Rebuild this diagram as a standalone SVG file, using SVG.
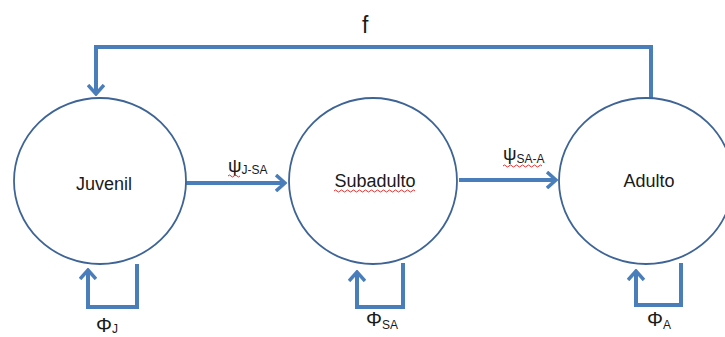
<svg xmlns="http://www.w3.org/2000/svg" width="725" height="337" viewBox="0 0 725 337">
  <style>
    .stage { fill: #ffffff; stroke: #3E6496; stroke-width: 1.8; }
    .link { fill: none; stroke: #4A7EBB; stroke-width: 4; stroke-linejoin: miter; }
    .name { font-family: "Liberation Sans", Arial, sans-serif; font-size: 18px; fill: #1a1a1a; text-anchor: middle; }
    .rate { font-family: "Liberation Sans", Arial, sans-serif; font-size: 19px; fill: #1a1a1a; }
    .sub { font-size: 12px; }
    .squiggle { fill: none; stroke: #E03030; stroke-width: 1; }
  </style>
  <defs>
    <marker id="head" markerUnits="userSpaceOnUse" viewBox="0 0 12 18" refX="10" refY="9" markerWidth="12" markerHeight="18" orient="auto">
      <path d="M1,1 L10,9 L1,17" fill="none" stroke="#4A7EBB" stroke-width="3.5"/>
    </marker>
  </defs>
  <rect width="725" height="337" fill="#ffffff"/>

  <!-- connectors -->
  <g id="connectors">
    <!-- fecundity: Adulto back to Juvenil -->
    <polyline class="link" points="651,98 651,47 96,47 96,94" marker-end="url(#head)"/>
    <!-- transitions -->
    <line class="link" x1="186" y1="183" x2="285" y2="183" marker-end="url(#head)"/>
    <line class="link" x1="459" y1="180" x2="556" y2="180" marker-end="url(#head)"/>
    <!-- survival loops -->
    <polyline class="link" points="137,264 137,307 88,307 88,270" marker-end="url(#head)"/>
    <polyline class="link" points="403,263 403,307 357,307 357,272" marker-end="url(#head)"/>
    <polyline class="link" points="681,263 681,305 636,305 636,271" marker-end="url(#head)"/>
  </g>

  <g id="juvenil">
    <ellipse class="stage" cx="100" cy="181" rx="86" ry="83"/>
    <text class="name" x="104" y="190">Juvenil</text>
  </g>
  <g id="subadulto">
    <ellipse class="stage" cx="373" cy="181" rx="84" ry="83"/>
    <text class="name" x="375" y="187">Subadulto</text>
    <path class="squiggle" d="M334,191 q1.5,-2 3,0 t3,0 t3,0 t3,0 t3,0 t3,0 t3,0 t3,0 t3,0 t3,0 t3,0 t3,0 t3,0 t3,0 t3,0 t3,0 t3,0 t3,0 t3,0 t3,0 t3,0 t3,0 t3,0 t3,0 t3,0 t3,0 t3,0"/>
  </g>
  <g id="adulto">
    <ellipse class="stage" cx="646" cy="181" rx="87" ry="83"/>
    <text class="name" x="649" y="187">Adulto</text>
  </g>

  <!-- rate labels -->
  <g id="labels">
    <text class="rate" x="362" y="33" style="font-size:23px">f</text>
    <text class="rate" x="228" y="172">ψ<tspan class="sub" dy="2">J-SA</tspan></text>
    <path class="squiggle" d="M228,176 q1.5,-2 3,0 t3,0 t3,0 t3,0"/>
    <text class="rate" x="503" y="160">ψ<tspan class="sub" dy="3">SA-A</tspan></text>
    <path class="squiggle" d="M503,166 q1.5,-2 3,0 t3,0 t3,0 t3,0 t3,0 t3,0 t3,0 t3,0 t3,0 t3,0 t3,0 t3,0 t3,0"/>
    <text class="rate" x="96" y="332" style="font-size:20px">Φ<tspan class="sub" dy="1">J</tspan></text>
    <text class="rate" x="366" y="326" style="font-size:20px">Φ<tspan class="sub" dy="3">SA</tspan></text>
    <text class="rate" x="647" y="326" style="font-size:20px">Φ<tspan class="sub" dy="3">A</tspan></text>
  </g>
</svg>
